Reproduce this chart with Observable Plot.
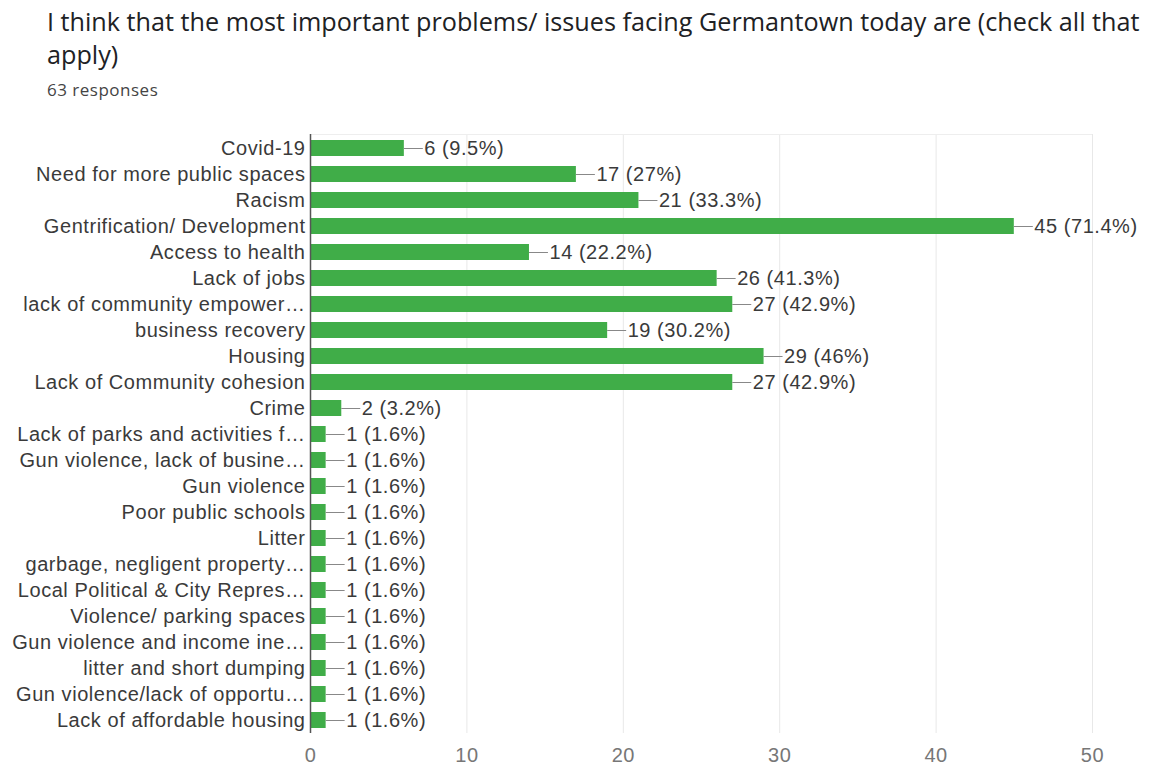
<!DOCTYPE html>
<html>
<head>
<meta charset="utf-8">
<script src="https://cdn.jsdelivr.net/npm/d3@7"></script>
<script src="https://cdn.jsdelivr.net/npm/@observablehq/plot@0.6"></script>
<style>
  html, body { margin: 0; padding: 0; background: #fff; }
  #wrap { width: 1150px; height: 768px; position: relative; overflow: hidden; }
  #title { position: absolute; left: 47px; top: 5px; font-family: "Open Sans", Roboto, sans-serif; font-size: 25.2px; line-height: 33px; color: #202124; white-space: nowrap; }
  #sub { position: absolute; left: 47px; top: 78px; font-family: "Open Sans", Roboto, sans-serif; font-size: 17px; letter-spacing: 0.5px; color: #444; }
  #chart { position: absolute; left: 0; top: 120px; }
  #chart svg { font-family: "Liberation Sans", Arial, sans-serif; }
  #chart svg text { letter-spacing: 0.55px; }
</style>
</head>
<body>
<div id="wrap">
  <div id="title">I think that the most important problems/ issues facing Germantown today are (check all that<br>apply)</div>
  <div id="sub">63 responses</div>
  <div id="chart"></div>
</div>
<script>
const categories = [
  "Covid-19",
  "Need for more public spaces",
  "Racism",
  "Gentrification/ Development",
  "Access to health",
  "Lack of jobs",
  "lack of community empower…",
  "business recovery",
  "Housing",
  "Lack of Community cohesion",
  "Crime",
  "Lack of parks and activities f…",
  "Gun violence, lack of busine…",
  "Gun violence",
  "Poor public schools",
  "Litter",
  "garbage, negligent property…",
  "Local Political & City Repres…",
  "Violence/ parking spaces",
  "Gun violence and income ine…",
  "litter and short dumping",
  "Gun violence/lack of opportu…",
  "Lack of affordable housing"
];
const counts = [6, 17, 21, 45, 14, 26, 27, 19, 29, 27, 2, 1, 1, 1, 1, 1, 1, 1, 1, 1, 1, 1, 1];
const percents = ["9.5", "27", "33.3", "71.4", "22.2", "41.3", "42.9", "30.2", "46", "42.9", "3.2",
  "1.6", "1.6", "1.6", "1.6", "1.6", "1.6", "1.6", "1.6", "1.6", "1.6", "1.6", "1.6"];
const xTicks = [0, 10, 20, 30, 40, 50];

const data = categories.map((c, i) => ({label: c, value: counts[i], text: `${counts[i]} (${percents[i]}%)`}));

const topLine = (index, scales, values, dims) => {
  const line = document.createElementNS("http://www.w3.org/2000/svg", "line");
  line.setAttribute("x1", dims.marginLeft);
  line.setAttribute("x2", dims.width - dims.marginRight);
  line.setAttribute("y1", dims.marginTop + 0.5);
  line.setAttribute("y2", dims.marginTop + 0.5);
  line.setAttribute("stroke", "#eeeeee");
  return line;
};

const chart = Plot.plot({
  width: 1150,
  height: 648,
  marginLeft: 310,
  marginRight: 58,
  marginTop: 14,
  marginBottom: 35,
  style: {fontSize: "20px", color: "#333", background: "#fff"},
  x: {domain: [0, 50], ticks: xTicks, label: null},
  y: {domain: categories, paddingInner: 0.385, paddingOuter: 0.15, label: null},
  marks: [
    Plot.gridX(xTicks.filter(d => d > 0), {stroke: "#e8e8e8", strokeOpacity: 1, strokeWidth: 1}),
    topLine,
    Plot.axisX({ticks: xTicks, tickSize: 0, tickPadding: 14, fill: "#777", fontSize: 20, label: null}),
    Plot.axisY({tickSize: 0, tickPadding: 5, fill: "#3a3a3a", fontSize: 20, label: null}),
    Plot.barX(data, {y: "label", x: "value", fill: "#40ad48"}),
    Plot.ruleY(data, {y: "label", x1: "value", x2: "value", insetRight: -19, stroke: "#888", strokeWidth: 1}),
    Plot.text(data, {y: "label", x: "value", text: "text", dx: 20, textAnchor: "start", fill: "#3a3a3a", fontSize: 20}),
    Plot.ruleX([0], {stroke: "#555", strokeWidth: 1.5})
  ]
});
document.getElementById("chart").appendChild(chart);
</script>
</body>
</html>
